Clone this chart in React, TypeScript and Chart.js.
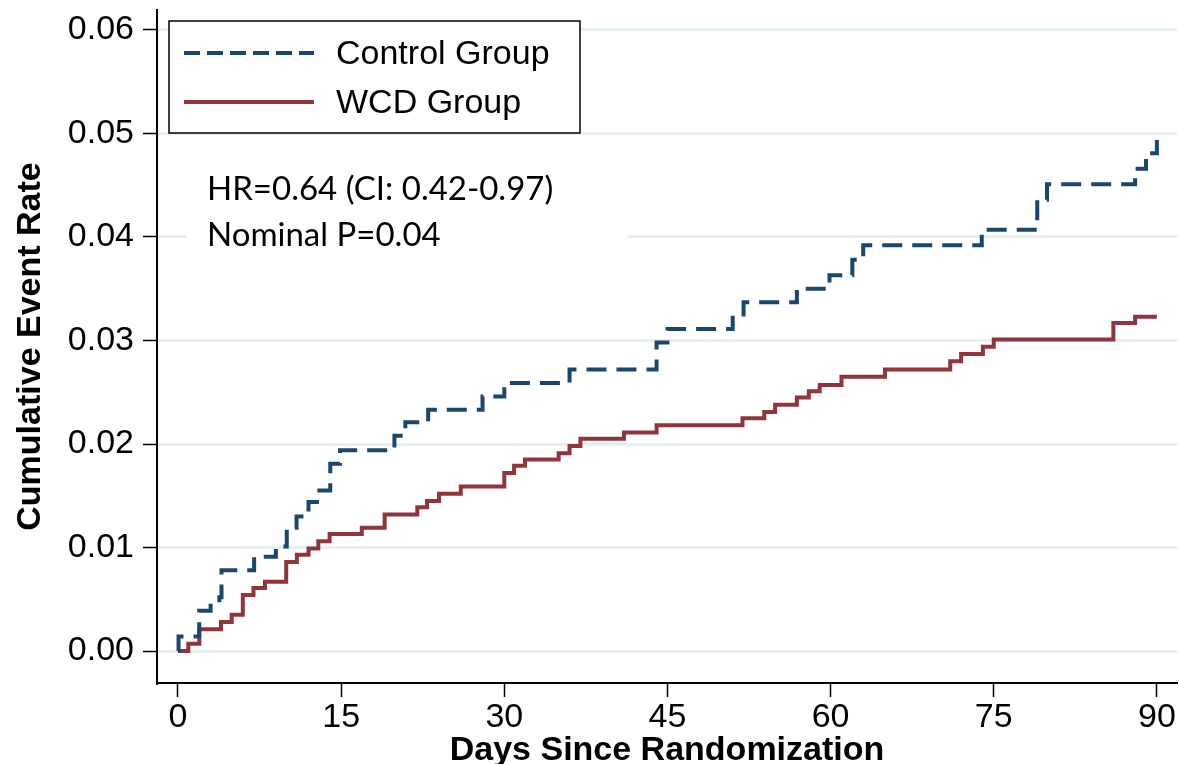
import React, { useEffect, useRef } from "react";
import { Chart, registerables } from "chart.js";

Chart.register(...registerables);

// ---- Data ----
const xTickValues = [0, 15, 30, 45, 60, 75, 90];
const yTickValues = [0, 0.01, 0.02, 0.03, 0.04, 0.05, 0.06];

const seriesLabels = ["Control Group", "WCD Group"];

const controlDays = [
  0, 0.05, 1.95, 3.0, 3.8, 4.0, 7.0, 9.0, 10.0, 10.9, 12.0, 13.0, 14.0, 14.9,
  19.9, 20.9, 23.0, 28.0, 30.0, 36.0, 44.0, 45.0, 51.0, 52.0, 56.9, 59.9,
  62.0, 63.0, 73.9, 79.0, 79.9, 88.0, 89.0, 90.0,
];
const controlRates = [
  0, 0.0014, 0.0039, 0.0046, 0.0052, 0.0078, 0.0091, 0.0101, 0.0119, 0.013,
  0.0144, 0.0155, 0.0181, 0.0194, 0.0208, 0.0221, 0.0233, 0.0246, 0.0259,
  0.0272, 0.0298, 0.0311, 0.0325, 0.0337, 0.035, 0.0363, 0.0378, 0.0392,
  0.0407, 0.0436, 0.0451, 0.0466, 0.0481, 0.0503,
];

const wcdDays = [
  0, 0.95, 1.96, 3.95, 4.94, 5.96, 6.94, 8.0, 9.95, 10.93, 12.0, 12.9, 13.94,
  16.9, 19.0, 22.0, 22.9, 24.0, 26.0, 30.0, 30.9, 31.9, 35.0, 36.0, 37.0,
  41.0, 44.0, 51.9, 53.9, 54.9, 56.9, 58.0, 59.0, 61.0, 65.0, 71.0, 72.0,
  74.0, 75.0, 86.0, 88.0, 90.0,
];
const wcdRates = [
  0, 0.0007, 0.0021, 0.0028, 0.0035, 0.0054, 0.0061, 0.0067, 0.0086, 0.0093,
  0.0099, 0.0106, 0.0113, 0.0119, 0.0132, 0.0139, 0.0145, 0.0152, 0.0159,
  0.0172, 0.0179, 0.0185, 0.0191, 0.0198, 0.0205, 0.0211, 0.0218, 0.0225,
  0.0231, 0.0238, 0.0245, 0.0251, 0.0257, 0.0265, 0.0272, 0.028, 0.0287,
  0.0294, 0.0301, 0.0317, 0.0323, 0.0323,
];

const annotationLines = ["HR=0.64 (CI: 0.42-0.97)", "Nominal P=0.04"];
const xTitle = "Days Since Randomization";
const yTitle = "Cumulative Event Rate";

const CONTROL_COLOR = "#1a476f";
const WCD_COLOR = "#90353b";
const GRID_COLOR = "#e8eff2";
const FONT = '"Liberation Sans", Arial, sans-serif';

// canvas is shifted up so that the plot top can sit 10px below the page top
const SHIFT = 30;

const overlayPlugin = {
  id: "overlay",
  afterDraw(chart: any) {
    const ctx = chart.ctx as CanvasRenderingContext2D;
    ctx.save();
    ctx.translate(0, SHIFT);
    // annotation block
    ctx.fillStyle = "#ffffff";
    ctx.fillRect(187, 160, 441, 95);
    ctx.fillStyle = "#000000";
    ctx.font = "33px Lato, sans-serif";
    ctx.textAlign = "left";
    ctx.textBaseline = "middle";
    annotationLines.forEach((t, i) => ctx.fillText(t, 207, 189 + i * 46));

    // legend box
    ctx.fillStyle = "#ffffff";
    ctx.fillRect(169, 21, 411, 112);
    ctx.strokeStyle = "#000000";
    ctx.lineWidth = 1.5;
    ctx.strokeRect(169, 21, 411, 112);
    chart.data.datasets.forEach((ds: any, i: number) => {
      const y = 53 + i * 49;
      ctx.beginPath();
      ctx.setLineDash(i === 0 ? [16, 7] : []);
      ctx.strokeStyle = ds.borderColor;
      ctx.lineWidth = 4;
      ctx.moveTo(184, y);
      ctx.lineTo(314, y);
      ctx.stroke();
      ctx.setLineDash([]);
      ctx.fillStyle = "#000000";
      ctx.font = `34px ${FONT}`;
      ctx.textBaseline = "middle";
      ctx.fillText(ds.label, 336, y + 2);
    });
    ctx.restore();
  },
};

export default function App() {
  const canvasRef = useRef<HTMLCanvasElement | null>(null);

  useEffect(() => {
    if (!canvasRef.current) return;
    const chart = new Chart(canvasRef.current, {
      type: "line",
      data: {
        datasets: [
          {
            label: seriesLabels[0],
            data: controlDays.map((d, i) => ({ x: d, y: controlRates[i] })),
            borderColor: CONTROL_COLOR,
            backgroundColor: CONTROL_COLOR,
            borderWidth: 4,
            borderDash: [20, 10],
            stepped: true,
            pointRadius: 0,
            fill: false,
          },
          {
            label: seriesLabels[1],
            data: wcdDays.map((d, i) => ({ x: d, y: wcdRates[i] })),
            borderColor: WCD_COLOR,
            backgroundColor: WCD_COLOR,
            borderWidth: 4,
            stepped: true,
            pointRadius: 0,
            fill: false,
          },
        ],
      },
      options: {
        animation: false,
        responsive: false,
        maintainAspectRatio: false,
        layout: { padding: { top: 10 + SHIFT, right: 2, left: 0, bottom: 0 } },
        plugins: {
          legend: { display: false },
          tooltip: { enabled: false },
        },
        scales: {
          x: {
            type: "linear",
            min: -1.93,
            max: 91.85,
            afterBuildTicks: (s: any) => {
              s.ticks = xTickValues.map((v) => ({ value: v }));
            },
            afterFit: (s: any) => {
              s.height = 81;
            },
            grid: {
              drawOnChartArea: false,
              drawTicks: true,
              tickLength: 14,
              tickColor: "#000",
              tickWidth: 1.5,
            },
            border: { display: true, color: "#000", width: 2 },
            ticks: {
              color: "#000",
              font: { family: FONT, size: 34 },
              padding: 0,
              maxRotation: 0,
              autoSkip: false,
              callback: (v: any) => String(v),
            },
            title: {
              display: true,
              text: xTitle,
              color: "#000",
              font: { family: FONT, size: 34, weight: "bold" },
              padding: { top: 0, bottom: -7 },
            },
          },
          y: {
            type: "linear",
            min: -0.00309,
            max: 0.06193,
            afterBuildTicks: (s: any) => {
              s.ticks = yTickValues.map((v) => ({ value: v }));
            },
            afterFit: (s: any) => {
              s.width = 157;
            },
            grid: {
              color: GRID_COLOR,
              lineWidth: 3,
              drawTicks: true,
              tickLength: 14,
              tickColor: "#000",
              tickWidth: 1.5,
            },
            border: { display: true, color: "#000", width: 2 },
            ticks: {
              color: "#000",
              font: { family: FONT, size: 34 },
              padding: 9,
              autoSkip: false,
              callback: (v: any) => Number(v).toFixed(2),
            },
            title: {
              display: true,
              text: yTitle,
              color: "#000",
              font: { family: FONT, size: 34, weight: "bold" },
              padding: { top: 10, bottom: 0 },
            },
          },
        },
      },
      plugins: [overlayPlugin],
    } as any);
    return () => chart.destroy();
  }, []);

  return (
    <div style={{ position: "fixed", left: 0, top: -SHIFT, width: 1179, height: 764 + SHIFT, background: "#fff" }}>
      <canvas ref={canvasRef} width={1179} height={764 + SHIFT} style={{ display: "block" }} />
    </div>
  );
}
